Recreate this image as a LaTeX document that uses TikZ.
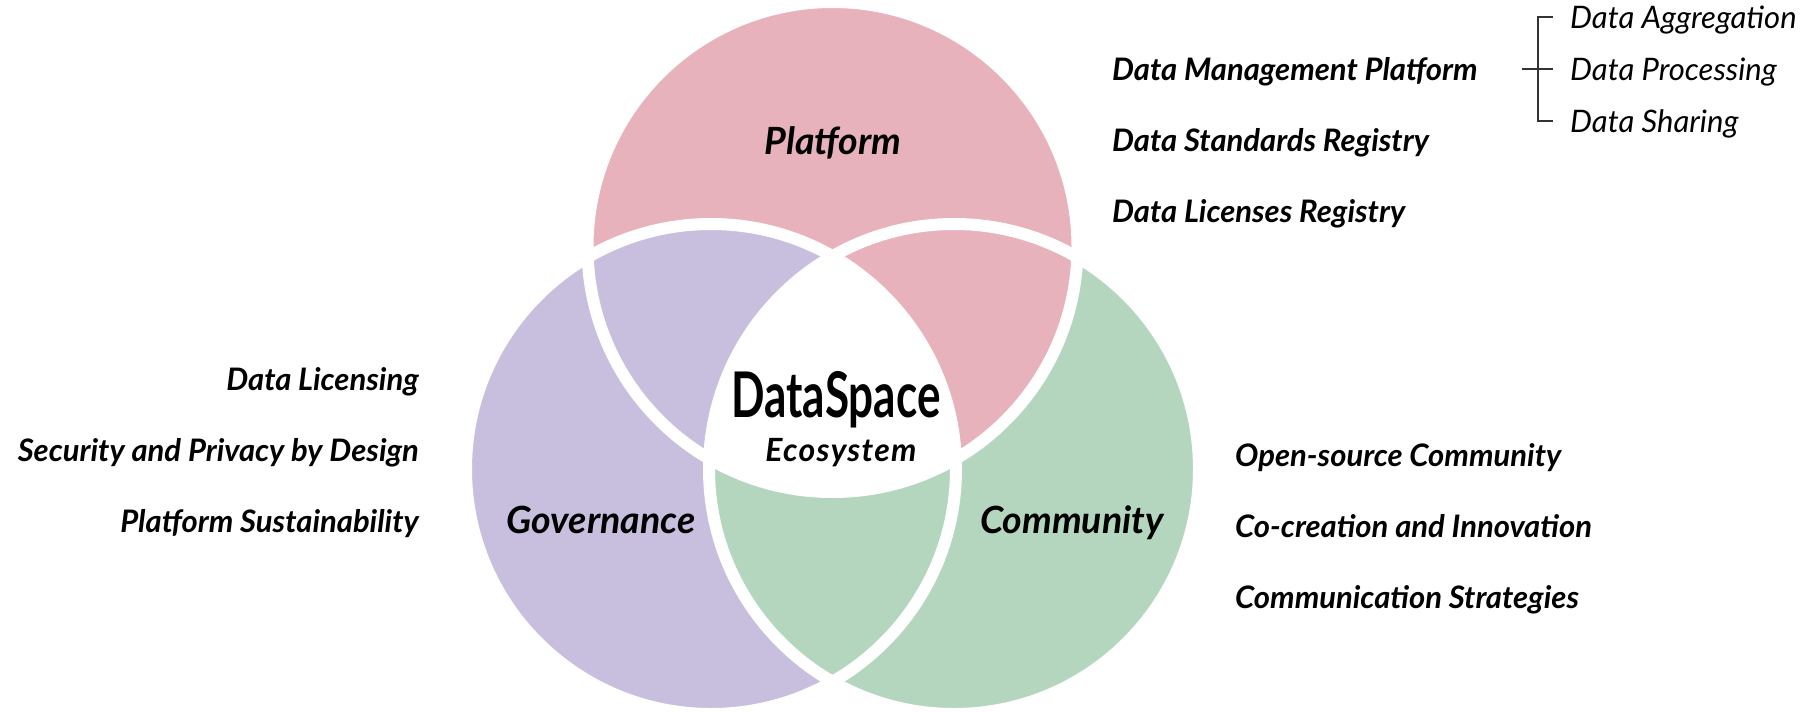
\documentclass[tikz,border=0pt]{standalone}
\usepackage{fontspec}
\setmainfont{Lato}
\newfontfamily\etroite[FakeStretch=0.7]{Lato}
\definecolor{rose}{HTML}{E8B2BC}
\definecolor{lavande}{HTML}{C8BFDE}
\definecolor{menthe}{HTML}{B4D6BF}
\def\R{245pt}
\begin{document}
\begin{tikzpicture}[x=1pt,y=-1pt,
    bord/.style={draw=white,line width=12pt},
    titre/.style={font=\bfseries\itshape\fontsize{37.5}{42}\selectfont,inner sep=0pt,anchor=base},
    item/.style={font=\bfseries\itshape\fontsize{31}{36}\selectfont,inner sep=0pt},
    sousitem/.style={font=\itshape\fontsize{31}{36}\selectfont,inner sep=0pt,anchor=base west},
    crochet/.style={draw=black!80,line width=2.5pt}]
   \useasboundingbox (0,0) rectangle (1810,712);

    % Dessine les trois cercles
    \coordinate (cP) at (832.5,247);
    \coordinate (cG) at (711,469);
    \coordinate (cC) at (954,469);
    \fill[rose] (cP) circle (\R);
    \fill[lavande] (cG) circle (\R);
    \fill[menthe] (cC) circle (\R);
   \begin{scope}
    \clip (cC) circle (\R);
    \fill[rose] (cP) circle (\R);
   \end{scope}
   \begin{scope}
    \clip (cP) circle (\R);
    \clip (cG) circle (\R);
    \fill[white] (cC) circle (\R);
   \end{scope}
    \foreach \c in {cP,cG,cC}
        \draw[bord] (\c) circle (\R);

    % Titres des cercles
    \node[titre] (plat) at (833,154) {Platform};
    \node[titre] (gouv) at (601,533) {Governance};
    \node[titre] (comm) at (1072,533) {Community};
    \node[anchor=base,inner sep=0pt,font=\etroite\bfseries\fontsize{63}{70}\selectfont] (ds) at (836,417) {DataSpace};
    \node[anchor=base,inner sep=0pt,font=\bfseries\itshape\fontsize{32}{36}\selectfont\addfontfeature{LetterSpace=4}] (eco) at (841,461) {Ecosystem};

    % Liste Platform
    \node[item,anchor=base west] (dmp) at (1112,80) {Data Management Platform};
    \node[item,anchor=base west] (dsr) at (1112,151) {Data Standards Registry};
    \node[item,anchor=base west] (dlr) at (1112,222) {Data Licenses Registry};
    \node[sousitem] (agg) at (1570,28) {Data Aggregation};
    \node[sousitem] (pro) at (1570,80) {Data Processing};
    \node[sousitem] (shr) at (1570,132) {Data Sharing};

    % Dessine le crochet
    \coordinate (kh) at (1553,17);
    \coordinate (kb) at (1553,121);
    \coordinate (km) at (1553,69);
    \coordinate (kg) at (1522,69);
    \draw[crochet] (kh) -- ++(-15,0) |- (kb);
    \draw[crochet] (kg) -- (km);

    % Liste Governance
    \node[item,anchor=base east] (dli) at (419,390) {Data Licensing};
    \node[item,anchor=base east] (spd) at (419,461) {Security and Privacy by Design};
    \node[item,anchor=base east] (psu) at (419,532) {Platform Sustainability};

    % Liste Community
    \node[item,anchor=base west] (osc) at (1235,466) {Open-source Community};
    \node[item,anchor=base west] (cci) at (1235,537) {Co-creation and Innovation};
    \node[item,anchor=base west] (cst) at (1235,608) {Communication Strategies};

\end{tikzpicture}
\end{document}
